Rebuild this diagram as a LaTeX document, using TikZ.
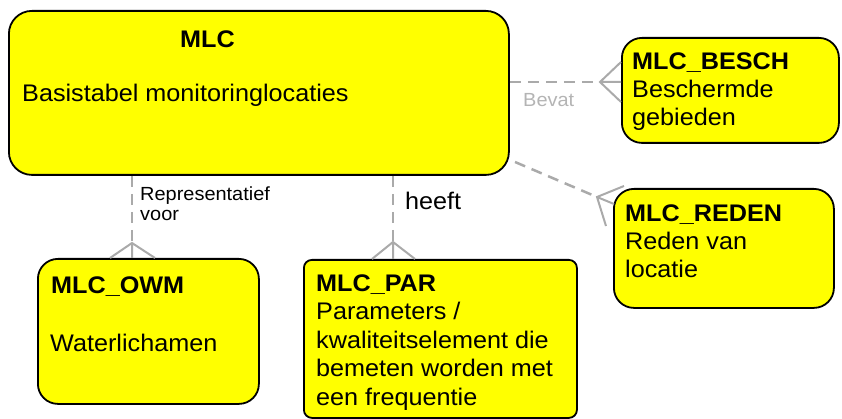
\documentclass[tikz,border=0pt]{standalone}
\usepackage{fontspec}
\setmainfont{Liberation Sans}[FakeStretch=1.05]
\definecolor{boxfill}{RGB}{255,255,0}
\definecolor{connc}{RGB}{170,170,170}
\definecolor{lblc}{RGB}{180,180,180}
\begin{document}
\begin{tikzpicture}[x=1pt,y=-1pt,
  box/.style={draw=black,line width=1.8pt,fill=boxfill,anchor=north west,inner sep=0pt,rounded corners=20pt},
  txt/.style={anchor=base west,inner sep=0pt,font=\fontsize{24}{28.5}\selectfont},
  ttl/.style={txt,font=\fontsize{24}{28.5}\selectfont\bfseries},
  lbl/.style={anchor=base west,inner sep=0pt,font=\fontsize{19}{20}\selectfont},
  conn/.style={draw=connc,line width=2.5pt,dash pattern=on 11pt off 7pt},
  foot/.style={draw=connc,line width=2pt}]
\useasboundingbox (0,0) rectangle (842,419);
% boxes
\node[box,rounded corners=23pt,minimum width=500pt,minimum height=164pt] (mlc) at (8,10) {};
\node[box,minimum width=217pt,minimum height=105pt] (besch) at (621,37) {};
\node[box,minimum width=220pt,minimum height=119pt] (reden) at (613,188) {};
\node[box,minimum width=221pt,minimum height=145pt] (owm) at (37,258) {};
\node[box,rounded corners=8pt,minimum width=273pt,minimum height=158pt] (par) at (303,259) {};
% texts
\node[ttl] (t1) at (180,48) {MLC};
\node[txt] (t2) at (22,102) {Basistabel monitoringlocaties};
\node[ttl] (t3) at (632,70) {MLC\_BESCH};
\node[txt] (t4a) at (632,98) {Beschermde};
\node[txt] (t4b) at (632,126) {gebieden};
\node[ttl] (t5) at (625,222) {MLC\_REDEN};
\node[txt] (t6a) at (625,250) {Reden van};
\node[txt] (t6b) at (625,277) {locatie};
\node[ttl] (t7) at (51,293) {MLC\_OWM};
\node[txt] (t8) at (50,351) {Waterlichamen};
\node[ttl] (t9) at (316,291) {MLC\_PAR};
\node[txt] (t10a) at (316,319) {Parameters /};
\node[txt] (t10b) at (316,348) {kwaliteitselement die};
\node[txt] (t10c) at (316,376) {bemeten worden met};
\node[txt] (t10d) at (316,405) {een frequentie};
% connector labels
\node[lbl,text=lblc] (l1) at (523,107) {Bevat};
\node[lbl] (l2a) at (140,201) {Representatief};
\node[lbl] (l2b) at (140,221) {voor};
\node[txt] (l3) at (405,210) {heeft};
% BESCH connector
\coordinate (a1) at (600,82);
\coordinate (a1u) at (621,62);
\coordinate (a1d) at (621,102);
\draw[conn] (mlc.east |- a1) -- (a1);
\draw[foot] (a1u) -- (a1) -- (a1d) (a1) -- (besch.west |- a1);
% REDEN connector
\coordinate (s2) at (515,162);
\coordinate (a2) at (597,197);
\coordinate (a2u) at (624,186);
\coordinate (a2d) at (606,226);
\coordinate (a2m) at (614,204);
\draw[conn] (s2) -- (a2);
\draw[foot] (a2u) -- (a2) -- (a2d) (a2) -- (a2m);
% OWM connector
\coordinate (a3) at (132,243);
\coordinate (a3l) at (110,258);
\coordinate (a3r) at (155,258);
\draw[conn] (mlc.south -| a3) -- (a3);
\draw[foot] (a3l) -- (a3) -- (a3r) (a3) -- (owm.north -| a3);
% PAR connector
\coordinate (a4) at (393,242);
\coordinate (a4l) at (372,259);
\coordinate (a4r) at (415,259);
\draw[conn] (mlc.south -| a4) -- (a4);
\draw[foot] (a4l) -- (a4) -- (a4r) (a4) -- (par.north -| a4);
\end{tikzpicture}
\end{document}
